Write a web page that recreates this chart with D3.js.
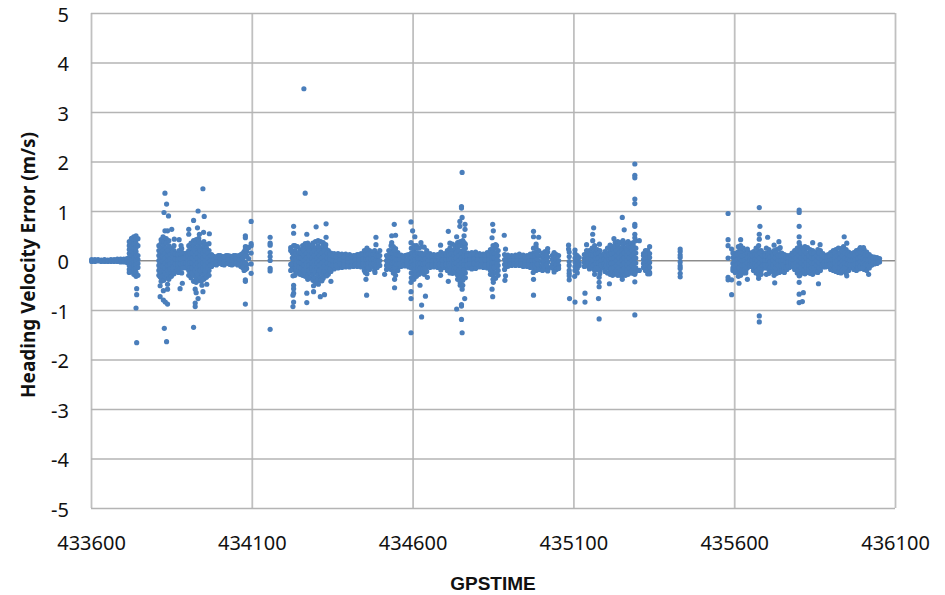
<!DOCTYPE html>
<html>
<head>
<meta charset="utf-8">
<script src="https://cdnjs.cloudflare.com/ajax/libs/d3/7.8.5/d3.min.js"></script>
<style>
body { margin: 0; background: #fff; }
text { font-family: "Noto Sans", "Open Sans", sans-serif; fill: #111; }
</style>
</head>
<body>
<script>
var xTicks = [433600, 434100, 434600, 435100, 435600, 436100];
var yTicks = [-5, -4, -3, -2, -1, 0, 1, 2, 3, 4, 5];

// each row: gps time, then the errors seen at about that time
var startBand = [
    [433602,.02,-.02],[433612,.02,-.02],[433622,.02,-.01],[433632,.01,-.02],[433642,.02,-.02],[433652,.01,-.02],
    [433662,.02,-.02],[433672,.02,-.02],[433682,.03,-.02],[433692,.03,-.03],[433702,.03,-.03],[433712,.04,-.04]
];
var firstSpike = [
    [433719,.38,.3,.22,.14,.06,-.02,-.1,-.18,-.24],[433726,.45,.36,.27,.18,.1,.02,-.06,-.14,-.22],
    [433733,.48,.4,.33,.24,.14,.05,-.04,-.12,-.2,-.28],[433740,.5,.42,.34,.26,.18,.1,0,-.08,-.16,-.24,-.32],[433746,.44,.3,.1,.02,-.06,-.14,-.3]
];
var burstOne = [
    [433811,.3,.2,.1,0,-.1,-.2,-.3],[433818,.42,.35,.25,.15,.05,-.05,-.15,-.25,-.35,-.42],[433826,.46,.38,.3,.2,.1,0,-.1,-.2,-.3,-.4],
    [433834,.44,.35,.25,.15,.05,-.05,-.15,-.25,-.35],[433842,.4,.3,.2,.1,0,-.1,-.2,-.3,-.38],[433850,.25,.15,.05,-.05,-.15,-.25,-.32],
    [433858,.3,.2,.1,0,-.1,-.2,-.27],[433866,.15,.05,-.05,-.15,-.22],[433874,.2,.1,0,-.1,-.2],[433882,.24,.15,.05,-.05,-.15,-.25],[433890,.1,0,-.1]
];
var burstTwo = [
    [433897,.15,.05,-.05,-.15],[433904,.3,.2,.1,0,-.1,-.2,-.3],[433911,.35,.25,.15,.05,-.05,-.15,-.25,-.35],
    [433919,.4,.3,.2,.1,0,-.1,-.2,-.3,-.42],[433927,.42,.35,.25,.15,.05,-.05,-.15,-.25,-.35,-.44],[433935,.45,.4,.3,.2,.1,0,-.1,-.2,-.3,-.4],
    [433943,.35,.25,.15,.05,-.05,-.15,-.25,-.35,-.42],[433951,.38,.3,.2,.1,0,-.1,-.2,-.3,-.38],[433959,.32,.25,.15,.05,-.05,-.15,-.25,-.34],
    [433967,.34,.2,.1,0,-.1,-.2,-.3],[433975,.12,.04,-.04,-.12]
];
var calmOne = [
    [433984,.08,0,-.08],[433996,.1,.02,-.06],[434008,.08,0,-.08],[434020,.1,.03,-.05],[434032,.09,0,-.08],[434044,.1,.02,-.07],
    [434056,.09,0,-.09],[434066,.12,.04,-.04,-.12],[434076,.18,.08,-.02,-.12,-.2],[434084,.27,.18,.1,-.08,-.16]
];
var burstThree = [
    [434226,.15,.05,-.05,-.15],[434234,.3,.2,.1,0,-.1,-.2,-.3],[434242,.28,.15,.05,-.05,-.15,-.25],[434250,.22,.1,0,-.1,-.2,-.28],
    [434258,.3,.2,.1,0,-.1,-.2,-.3],[434266,.34,.25,.15,.05,-.05,-.15,-.25,-.32],[434274,.35,.3,.2,.1,0,-.1,-.2,-.3,-.38],
    [434282,.3,.25,.15,.05,-.05,-.15,-.25,-.35],[434290,.35,.3,.2,.1,0,-.1,-.2,-.3,-.4],[434298,.38,.25,.15,.05,-.05,-.15,-.25,-.35,-.44],
    [434306,.4,.3,.2,.1,0,-.1,-.2,-.3,-.4],[434314,.38,.25,.15,.05,-.05,-.15,-.25,-.35,-.4],[434322,.36,.3,.2,.1,0,-.1,-.2,-.3,-.36],
    [434330,.32,.25,.15,.05,-.05,-.15,-.25,-.3],[434338,.2,.1,0,-.1,-.2,-.28],[434346,.15,.05,-.05,-.15,-.22],[434356,.14,.02,-.08,-.17],
    [434368,.14,.03,-.05,-.15],[434380,.13,.02,-.06,-.14],[434392,.13,.01,-.08,-.13],[434404,.12,.02,-.07,-.13]
];
var burstFour = [
    [434416,.1,.02,-.06,-.12],[434428,.12,.03,-.05,-.12],[434440,.14,.05,-.04,-.13],[434450,.2,.1,0,-.1,-.2],[434458,.25,.15,.05,-.05,-.15,-.27],
    [434466,.2,.1,0,-.1,-.18],[434474,.17,.07,-.03,-.13],[434482,.2,.1,0,-.1,-.2],[434490,.14,.04,-.06,-.14],[434498,.1,0,-.1],
    [434519,.1,0,-.1,-.18],[434526,.2,.1,.03,-.05,-.12],[434533,.3,.2,.1,0,-.1,-.18],[434540,.28,.15,.05,-.05,-.15,-.25],
    [434547,.24,.1,0,-.1,-.2,-.3],[434554,.16,.06,-.04,-.14,-.2],[434564,.11,.03,-.05,-.12],[434576,.1,.02,-.06,-.11],[434588,.12,.03,-.06,-.13],
    [434596,.25,.15,.05,-.05,-.15,-.25,-.35],[434604,.3,.2,.1,0,-.1,-.2,-.3,-.38],[434612,.3,.25,.15,.05,-.05,-.15,-.25,-.32],
    [434620,.25,.1,0,-.1,-.2,-.28],[434628,.28,.15,.05,-.05,-.15,-.25],[434636,.27,.1,0,-.1,-.2,-.28],[434644,.2,.08,-.02,-.12,-.22],
    [434654,.14,.04,-.06,-.14],[434666,.12,.03,-.05,-.13],[434678,.12,.02,-.07,-.14],[434688,.17,.07,-.03,-.13,-.19],[434698,.14,.04,-.06,-.14]
];
var burstFive = [
    [434708,.2,.1,0,-.1,-.2],[434716,.35,.25,.15,.05,-.05,-.15,-.25],[434724,.33,.2,.1,0,-.1,-.2,-.26],[434732,.3,.25,.15,.05,-.05,-.15,-.25],
    [434740,.36,.28,.2,.1,0,-.1,-.2,-.3,-.38],[434748,.38,.3,.15,.05,-.05,-.15,-.25,-.35,-.45,-.5],[434756,.4,.3,.2,.1,0,-.1,-.2,-.3,-.4,-.5],
    [434764,.33,.25,.15,.05,-.05,-.15,-.25,-.35],[434772,.15,.05,-.05,-.15],[434784,.16,.07,-.02,-.1,-.17],[434796,.17,.08,-.01,-.1,-.16],
    [434808,.14,.05,-.04,-.13],[434820,.13,.04,-.05,-.14],[434832,.16,.06,-.04,-.15],[434842,.22,.1,0,-.1,-.2,-.28],
    [434850,.3,.2,.1,0,-.1,-.2,-.3,-.38],[434858,.32,.25,.15,.05,-.05,-.15,-.25,-.36],[434866,.2,.1,0,-.1,-.2,-.3]
];
var calmTwo = [
    [434886,.12,.02,-.08,-.18],[434896,.11,.03,-.05,-.12],[434908,.1,.02,-.06,-.1],[434920,.11,.03,-.05,-.1],[434932,.13,.04,-.04,-.1],
    [434944,.11,.02,-.06,-.12],[434956,.1,.02,-.06,-.12],[434966,.13,.04,-.05,-.14],[434976,.25,.15,.05,-.05,-.15],[434984,.27,.17,.07,-.03,-.13,-.2],
    [434992,.2,.1,0,-.1,-.18],[435004,.15,.06,-.04,-.14,-.2],[435012,.18,.08,-.02,-.12,-.18],[435020,.17,.07,-.03,-.13,-.19],
    [435034,.1,.02,-.08,-.15],[435040,.14,.04,-.06,-.16],[435047,.12,.02,-.08,-.18],[435054,.1,0,-.1,-.16],
    [435087,.17,.08,-.02,-.1,-.2,-.26],[435105,.14,.05,-.03,-.12,-.2],[435112,.1,.02,-.07,-.16,-.25],[435118,.06,-.04,-.1]
];
var burstSix = [
    [435134,.12,.04,-.04,-.12],[435142,.14,.05,-.03,-.11],[435150,.2,.1,0,-.1,-.17],[435158,.25,.15,.05,-.05,-.15],[435166,.3,.2,.1,0,-.1,-.2,-.28],
    [435174,.22,.12,.02,-.08,-.18],[435182,.2,.1,0,-.1,-.2,-.27],[435190,.12,.03,-.06,-.15],[435198,.18,.08,-.02,-.12,-.22],
    [435206,.25,.15,.05,-.05,-.15,-.25],[435214,.22,.12,.02,-.08,-.18,-.28],[435222,.28,.2,.1,0,-.1,-.2,-.3],[435230,.36,.28,.15,.05,-.05,-.15,-.25],
    [435238,.38,.3,.2,.1,0,-.1,-.2,-.3],[435246,.36,.25,.15,.05,-.05,-.15,-.25,-.3],[435254,.4,.3,.2,.1,0,-.1,-.2,-.3],
    [435262,.35,.25,.15,.05,-.05,-.15,-.25,-.3],[435270,.38,.3,.2,.1,0,-.1,-.2,-.28],[435278,.34,.25,.15,.05,-.05,-.15,-.25],
    [435286,.36,.3,.2,.1,0,-.1,-.2,-.26],[435294,.4,.25,.15,.05,-.05,-.15,-.22]
];
var shortPassOne = [
    [435318,.14,.1,.02,-.06,-.14],[435324,.2,.12,.04,-.04,-.12,-.2],[435331,.2,.14,.06,-.02,-.1,-.18,-.27],[435337,.28,.14,.06,-.04,-.14,-.24,-.27]
];
var shortPassTwo = [
    [435432,.23,.18,.11,.06,-.03,-.11,-.16,-.26,-.33]
];
var lastRun = [
    [435596,.15,.06,-.06,-.15,-.2],[435606,.15,.05,-.05,-.15,-.22],[435613,.28,.18,.08,-.02,-.12,-.22,-.32],[435620,.3,.2,.1,0,-.1,-.2,-.3],
    [435628,.25,.15,.05,-.05,-.15,-.25],[435636,.2,.1,0,-.1,-.2,-.25],[435644,.17,.07,-.03,-.13],[435652,.15,.05,-.05,-.12],
    [435660,.18,.08,-.02,-.12,-.2],[435668,.25,.15,.05,-.05,-.15,-.25],[435676,.3,.2,.1,0,-.1,-.2,-.3,-.36],[435684,.2,.1,0,-.1,-.2,-.28],
    [435692,.15,.05,-.05,-.15],[435700,.25,.15,.05,-.05,-.15,-.28],[435708,.22,.12,.02,-.08,-.18,-.26],[435716,.16,.06,-.04,-.14,-.22],
    [435724,.2,.1,0,-.1,-.2,-.3],[435732,.22,.12,.02,-.08,-.18,-.26],[435740,.24,.14,.04,-.06,-.16,-.24],[435748,.15,.05,-.05,-.15,-.22],
    [435756,.12,.02,-.08,-.18,-.24],[435764,.1,0,-.1,-.18],[435772,.1,.01,-.08,-.14],[435780,.15,.06,-.04,-.12],[435788,.2,.1,0,-.1,-.18],
    [435796,.25,.15,.05,-.05,-.15,-.25],[435804,.3,.2,.1,0,-.1,-.2,-.3],[435812,.25,.15,.05,-.05,-.15,-.25],[435820,.28,.2,.1,0,-.1,-.2,-.27],
    [435828,.26,.15,.05,-.05,-.15,-.24],[435836,.22,.12,.02,-.08,-.18,-.26],[435844,.2,.1,0,-.1,-.2,-.28],[435852,.16,.06,-.04,-.14,-.23],
    [435860,.22,.12,.02,-.08,-.18,-.24],[435868,.2,.1,0,-.1,-.2],[435876,.14,.05,-.05,-.13],[435884,.1,.02,-.06,-.13],[435892,.12,.03,-.05,-.12],
    [435900,.16,.07,-.03,-.13,-.18],[435908,.2,.1,0,-.1,-.2],[435916,.22,.12,.02,-.08,-.18,-.22],[435924,.25,.15,.05,-.05,-.15,-.24],
    [435932,.24,.14,.04,-.06,-.16,-.25],[435940,.28,.18,.08,-.02,-.12,-.22],[435948,.22,.12,.02,-.08,-.18,-.26],[435956,.17,.07,-.03,-.13,-.2],
    [435964,.14,.05,-.05,-.14],[435972,.16,.07,-.03,-.13,-.18],[435980,.2,.1,0,-.1,-.2],[435988,.22,.12,.02,-.08,-.17],[435996,.24,.14,.04,-.06,-.16],
    [436004,.22,.12,.02,-.08,-.18],[436012,.17,.07,-.03,-.13,-.2],[436020,.12,.03,-.05,-.15],[436028,.08,0,-.09],[436036,.07,0,-.07],
    [436044,.06,0,-.06],[436052,.04,-.03]
];

// rows between the ones above, the centre of the bands is solid in the picture
var coreOne = [
    [433815,.14,.04,-.06,-.16],[433822,.18,.08,-.02,-.12],[433830,.15,.05,-.05,-.15,-.25],[433838,.2,.1,0,-.1,-.2],[433846,.12,.03,-.07,-.17],
    [433854,.16,.06,-.04,-.14],[433862,.13,.03,-.07],[433870,.12,.02,-.08],[433878,.13,.03,-.07],[433886,.15,.05,-.05,-.15],[433894,.06,-.05],
    [433901,.1,0,-.1],[433908,.14,.04,-.06,-.16],[433915,.15,.05,-.05,-.15,-.25],[433923,.2,.1,0,-.1,-.2],[433931,.15,.05,-.05,-.15,-.25],
    [433939,.2,.1,0,-.1,-.2],[433947,.15,.05,-.05,-.15],[433955,.2,.1,0,-.1,-.2],[433963,.16,.06,-.04,-.14],[433971,.1,0,-.1],
    [433979,.09,.01,-.07],[433990,.07,-.03,-.09],[434002,.1,.03,-.05],[434014,.08,-.02,-.09],[434026,.1,.02,-.06],[434038,.08,-.01,-.09],
    [434050,.1,.03,-.06],[434061,.1,.02,-.08],[434071,.14,.05,-.05,-.14]
];
var coreTwo = [
    [434230,.12,.02,-.08,-.18],[434238,.14,.04,-.06,-.16],[434246,.16,.06,-.04,-.14],[434254,.15,.05,-.05,-.15],[434262,.2,.1,0,-.1,-.2],
    [434270,.15,.05,-.05,-.15],[434278,.2,.1,0,-.1,-.2],[434286,.15,.05,-.05,-.15],[434294,.2,.1,0,-.1,-.2],[434302,.15,.05,-.05,-.15],
    [434310,.2,.1,0,-.1,-.2],[434318,.15,.05,-.05,-.15],[434326,.2,.1,0,-.1,-.2],[434334,.15,.05,-.05,-.15],[434342,.12,.02,-.08,-.18],
    [434351,.1,0,-.1],[434362,.08,-.02,-.1],[434374,.1,.01,-.07],[434386,.07,-.02,-.1],[434398,.1,.03,-.05,-.11],[434410,.08,-.02,-.1],
    [434422,.1,.01,-.08],[434434,.12,.02,-.08],[434445,.12,.03,-.07],[434454,.12,.02,-.08],[434462,.14,.04,-.06,-.14],[434470,.12,.02,-.08],
    [434478,.12,.03,-.07],[434486,.1,0,-.1],[434494,.09,-.01,-.09],[434522,.07,-.03],[434530,.14,.06,-.02,-.1],[434537,.15,.05,-.05],
    [434544,.2,.06,-.04,-.14],[434550,.12,.02,-.08],[434559,.1,.02,-.07],[434570,.08,-.02,-.1],[434582,.11,.01,-.08]
];
var coreThree = [
    [434600,.1,0,-.1],[434608,.12,.02,-.08,-.18],[434616,.15,.05,-.05,-.15],[434624,.14,.04,-.06,-.16],[434632,.12,.02,-.08,-.18],
    [434640,.14,.04,-.06,-.16],[434649,.1,0,-.1],[434660,.09,-.01,-.1],[434672,.1,0,-.09],[434683,.12,.02,-.08],[434693,.1,.01,-.09],
    [434703,.12,.02,-.08],[434712,.12,.02,-.08],[434720,.14,.04,-.06,-.16],[434728,.12,.02,-.08,-.18],[434736,.15,.05,-.05,-.15],
    [434744,.2,.1,0,-.1,-.2],[434752,.15,.05,-.05,-.15,-.25],[434760,.2,.1,0,-.1,-.2],[434768,.1,0,-.1],[434778,.11,.02,-.07],[434790,.12,.03,-.06],
    [434802,.1,.01,-.08],[434814,.1,.01,-.09],[434826,.1,.01,-.1],[434837,.12,.02,-.08],[434846,.15,.05,-.05,-.15],[434854,.14,.05,-.05,-.14],
    [434862,.12,.02,-.08],[434891,.08,-.01,-.09],[434902,.07,-.01,-.08],[434914,.08,-.01,-.08],[434926,.08,0,-.08],[434938,.08,0,-.07],
    [434950,.07,-.02,-.09],[434961,.08,-.01,-.09],[434971,.1,0,-.1],[434980,.1,0,-.1],[434988,.12,.02,-.08],[435008,.1,0,-.1],[435016,.12,.02,-.08]
];
var coreFour = [
    [435138,.08,0,-.08],[435146,.13,.03,-.05],[435154,.12,.02,-.08],[435162,.1,0,-.1],[435170,.14,.04,-.06,-.16],[435178,.15,.05,-.05,-.15],
    [435186,.1,0,-.1],[435194,.12,.02,-.08],[435202,.1,0,-.1],[435210,.12,.02,-.08],[435218,.14,.04,-.06,-.16],[435226,.15,.05,-.05,-.15],
    [435234,.2,.1,0,-.1,-.2],[435242,.15,.05,-.05,-.15],[435250,.2,.1,0,-.1,-.2],[435258,.15,.05,-.05,-.15],[435266,.2,.1,0,-.1,-.2],
    [435274,.15,.05,-.05,-.15],[435282,.2,.1,0,-.1,-.2],[435290,.15,.05,-.05,-.15],
    [435601,.1,0,-.1],[435610,.12,.02,-.08],[435617,.15,.05,-.05,-.15],[435624,.1,0,-.1,-.2],[435632,.12,.02,-.08,-.18],[435640,.15,.05,-.05,-.15],
    [435648,.1,0,-.09],[435656,.1,0,-.08],[435664,.12,.02,-.08],[435672,.1,0,-.1,-.2],[435680,.15,.05,-.05,-.15],[435688,.1,0,-.1],
    [435696,.1,0,-.1],[435704,.1,0,-.1],[435712,.07,-.03,-.13],[435720,.1,0,-.1],[435728,.15,.05,-.05,-.15],[435736,.1,0,-.1],
    [435744,.1,0,-.1],[435752,.1,0,-.1],[435760,.06,-.04,-.14],[435768,.06,-.03,-.11],[435776,.1,.02,-.06],[435784,.1,0,-.08],
    [435792,.14,.05,-.05,-.13],[435800,.2,.1,0,-.1,-.2],[435808,.15,.05,-.05,-.15],[435816,.2,.1,0,-.1,-.2],[435824,.15,.05,-.05,-.15],
    [435832,.1,0,-.1,-.2],[435840,.15,.05,-.05,-.15],[435848,.15,.05,-.05,-.15],[435856,.1,0,-.1],[435864,.15,.05,-.05,-.15],
    [435872,.1,0,-.1],[435880,.07,-.02,-.09],[435888,.07,-.01,-.09],[435896,.08,-.01,-.08],[435904,.12,.02,-.08],[435912,.15,.05,-.05,-.15],
    [435920,.1,0,-.1],[435928,.15,.05,-.05,-.15],[435936,.2,.1,0,-.1,-.2],[435944,.15,.05,-.05,-.15],[435952,.12,.02,-.08],[435960,.1,0,-.09],
    [435968,.1,0,-.1],[435976,.12,.02,-.08],[435984,.15,.05,-.05,-.15],[435992,.18,.08,-.02,-.12],[436000,.15,.05,-.05,-.15],[436008,.12,.02,-.08],
    [436016,.1,0,-.1],[436024,.06,-.03,-.1],[436032,.05,-.04],[436040,.04,-.04],[436048,.03,-.03]
];

// the stray points away from the dense bands
var strayOne = [
    [433742,-.57,-.69],[433740,-.96],[433742,-1.66],[433830,1.36,.6],[433835,1.14,-1.64],[433827,.97],[433841,.9],[433851,.63],[433838,.6,-.48,-.58,-.88],
    [433824,.48],[433815,-.33,-.51,-.73],[433825,-.61,-.8],[433831,-.84],[433828,-1.37],[433859,.43],[433874,.42],[433880,.3],[433882,.16],
    [433872,-.24],[433884,-.46],[433877,-.57],[433948,1.45,-.63],[433933,1,-.77],[433952,.89],[433919,.81,-1.35],[433931,.66],[433904,.63,.53],
    [433950,.57],[433968,.54],[433937,.53],[433960,-.48],[433945,-.5],[433924,-.58,-.86,-.93],[433927,-.65],
    [434080,.5,.46,.28,.23,.09,-.04,-.18,-.39,-.42,-.88],[434098,.79,.34,.3,.15,-.07,-.26],[434090,.26,.04],
    [434157,.47,.35,.31,.16,.08,0,-.16,-.21,-1.39]
];
var strayTwo = [
    [434230,.69,.55,.3,-.5,-.57,-.66,-.84],[434221,.26,.2,-.08,-.2],[434228,-.31,-.7,-.93],[434262,3.47],[434266,1.36],[434271,.53,-.66,-.85],
    [434300,.68],[434331,.74,.47],[434292,-.63,-.51],[434313,-.73],[434326,-.69],[434346,-.42],[434307,-.48],[434318,-.41],[434333,-.31],
    [434486,.47,.32],[434457,-.7],[434455,-.38],[434483,-.24],[434453,-.24],[434513,-.28],[434498,.2],[434543,.73],[434535,.5,.36],[434547,.51],
    [434544,-.55,-.38],[434522,-.11],[434595,.78,.36,-.44,-.63,-.77,-1.46],[434600,.6],[434607,.48],[434626,.36],[434628,-.9,-1.14],[434640,-.72],
    [434623,-.5],[434646,-.34],[434687,.31,-.3],[434711,.59,-.42],[434754,1.78,.87,-.58,-1.46],[434752,1.09,1.06,-.89,-.92,-1.19],[434747,.79,.69],
    [434763,.73,.63],[434737,.48,-.98],[434760,.5,.36],[434762,-.77],[434849,.73,-.73],[434851,.6,-.44],[434847,.46,-.58],[434861,.3],
    [434885,.51],[434889,.23,-.31],[434887,-.4],[434976,.59,.48,-.38,-.7],[434992,.47],[434984,.33],[434975,-.24],[435020,.24,-.21],
    [435040,.16,-.23],[435085,.31,.23],[435105,.21,-.84],[435087,-.31,-.39],[435104,-.32],[435088,-.77]
];
var strayThree = [
    [435136,-.66,-.84],[435178,-.77],[435180,-1.18,-.44,-.53,-.34],[435163,.66],[435160,.53,.4],[435141,.32,.2],[435181,.33],[435214,.31],
    [435226,.44],[435252,.87,-.38],[435258,.62],[435212,-.47],[435235,-.28],[435291,1.95,1.72,1.67,1.24,1.15,.73,.69,.53,.46,-.28,-.43,-1.1],
    [435305,.4,-.2],[435581,.95,.42,.3,.05,-.39,-.34],[435592,.23,-.39,-.69],[435603,-.24],[435678,1.07,.53,.43,-1.12,-1.24],[435680,.69],
    [435704,.47],[435620,.42],[435641,.23,-.38],[435615,-.46],[435726,-.45],[435739,.38],[435724,.31],[435743,.26],
    [435802,1.02,.97,.69,.48,.36,-.31,-.44,-.68,-.85],[435815,-.65],[435812,-.83],[435844,.36],[435867,.32],[435862,-.47],[435942,.48],
    [435950,.35,-.31],[435992,.26],[436002,.26],[436018,-.28]
];

var sections = [startBand, firstSpike, burstOne, burstTwo, calmOne, burstThree, burstFour, burstFive, calmTwo, burstSix,
    shortPassOne, shortPassTwo, lastRun, coreOne, coreTwo, coreThree, coreFour, strayOne, strayTwo, strayThree];

var points = [];
sections.forEach(function(rows) {
    rows.forEach(function(row) {
        row.slice(1).forEach(function(v) {
            points.push({ t: row[0], v: v });
        });
    });
});

var width = 945, height = 595;
var left = 91, right = 895, top_ = 13, bottom = 508;

var x = d3.scaleLinear().domain([433600, 436100]).range([left, right]);
var y = d3.scaleLinear().domain([-5, 5]).range([bottom, top_]);

var svg = d3.select("body").append("svg")
    .attr("width", width)
    .attr("height", height)
    .style("display", "block");

var xAxis = d3.axisBottom(x)
    .tickValues(xTicks)
    .tickFormat(String)
    .tickSize(-(bottom - top_))
    .tickPadding(28);
var yAxis = d3.axisLeft(y)
    .tickValues(yTicks)
    .tickFormat(String)
    .tickSize(-(right - left))
    .tickPadding(22);

var gx = svg.append("g").attr("transform", "translate(0," + bottom + ")").call(xAxis);
var gy = svg.append("g").attr("transform", "translate(" + left + ",0)").call(yAxis);

gx.select(".domain").remove();
gy.select(".domain").remove();
gx.selectAll("line").attr("stroke", "#c0c0c0").attr("stroke-width", 1.8);
gy.selectAll("line").attr("stroke", "#b4b4b4").attr("stroke-width", 1.4);
gx.selectAll("text").style("font-size", "20px").attr("fill", "#111");
gy.selectAll("text").style("font-size", "20px").attr("fill", "#111").attr("dy", "0.42em");

// zero line is the real axis in the original, a bit darker
svg.append("line")
    .attr("x1", left).attr("x2", right)
    .attr("y1", y(0)).attr("y2", y(0))
    .attr("stroke", "#8c8c8c").attr("stroke-width", 1);

svg.selectAll("circle.pt")
    .data(points)
    .enter().append("circle")
    .attr("class", "pt")
    .attr("cx", function(d) { return x(d.t); })
    .attr("cy", function(d) { return y(d.v); })
    .attr("r", 2.6)
    .style("fill", "#4a7ebb");

svg.append("text")
    .attr("x", 493).attr("y", 590)
    .attr("text-anchor", "middle")
    .style("font-family", "'Liberation Sans', sans-serif")
    .style("font-size", "19px")
    .style("font-weight", "bold")
    .text("GPSTIME");

svg.append("text")
    .attr("transform", "translate(35,265) rotate(-90)")
    .attr("text-anchor", "middle")
    .style("font-size", "19px")
    .style("font-weight", "bold")
    .text("Heading Velocity Error (m/s)");
</script>
</body>
</html>
